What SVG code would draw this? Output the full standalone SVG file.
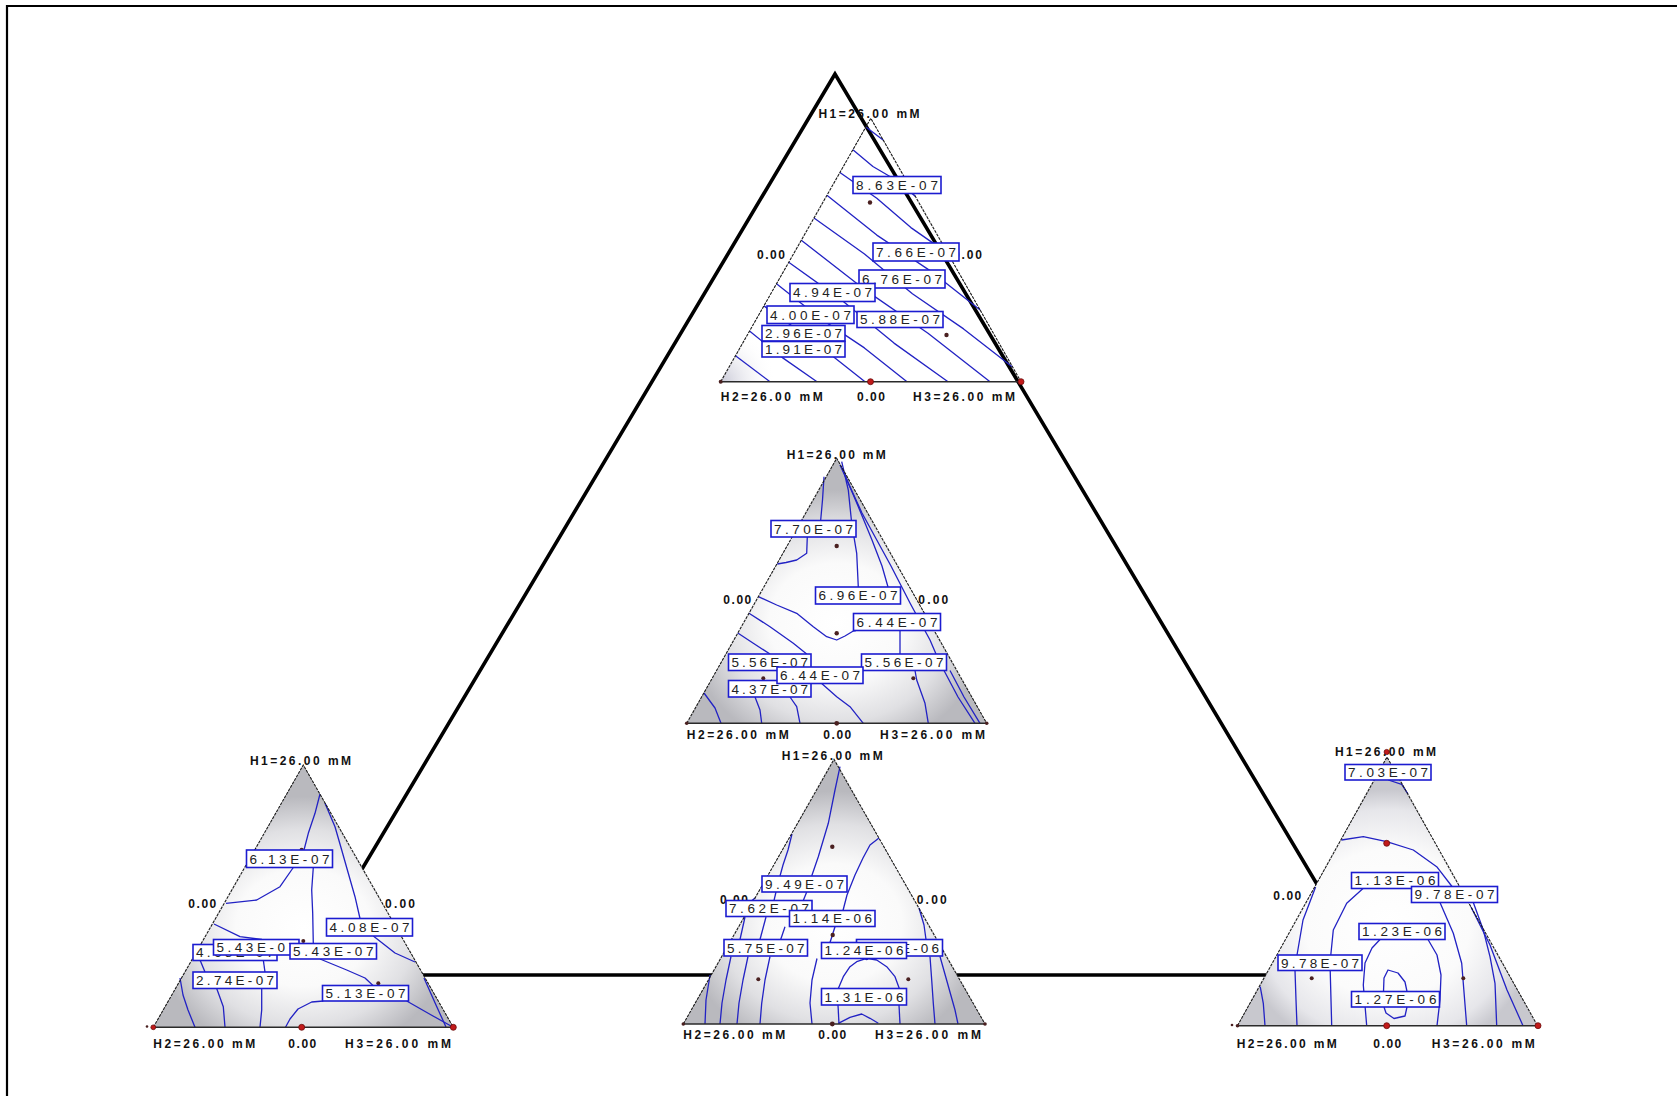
<svg xmlns="http://www.w3.org/2000/svg" width="1677" height="1096" viewBox="0 0 1677 1096">
  <style>
    .frame { fill: none; stroke: #000; stroke-width: 2.2; }
    .big { fill: none; stroke: #000; stroke-width: 3.6; stroke-linejoin: miter; }
    .edge { fill: none; stroke: #1a1a1a; stroke-width: 1.1; stroke-dasharray: 3 1; }
    .base { fill: none; stroke: #2a2a2a; stroke-width: 1.6; }
    .ct { fill: none; stroke: #2222c4; stroke-width: 1.3; stroke-linejoin: round; }
    .lbl rect { fill: #fff; stroke: #1c1cd0; stroke-width: 1.6; }
    .lbl text { font-family: "Liberation Sans", Arial, sans-serif; font-size: 13.5px; fill: #222; }
    .ax { font-family: "Liberation Sans", Arial, sans-serif; font-weight: bold; font-size: 12px; fill: #111; }
    .dr { fill: #c21a1a; stroke: #6a0c0c; stroke-width: 0.8; }
    .dd { fill: #4a2020; }
  </style>
  <defs>
    <radialGradient id="shade" cx="0.5" cy="0.62" r="0.5">
      <stop offset="0" stop-color="#ffffff"/>
      <stop offset="0.45" stop-color="#fafafa"/>
      <stop offset="0.75" stop-color="#e0e0e3"/>
      <stop offset="1" stop-color="#b9b9be"/>
    </radialGradient>
    <radialGradient id="shadeLight" cx="0.5" cy="0.62" r="0.5">
      <stop offset="0" stop-color="#ffffff"/>
      <stop offset="0.55" stop-color="#fbfbfb"/>
      <stop offset="0.85" stop-color="#e6e6ea"/>
      <stop offset="1" stop-color="#c8c8ce"/>
    </radialGradient>
    <radialGradient id="cornerTop" gradientUnits="userSpaceOnUse" cx="720.7" cy="381.7" r="55">
      <stop offset="0" stop-color="#c8c8d6"/>
      <stop offset="1" stop-color="#ffffff" stop-opacity="0"/>
    </radialGradient>
  </defs>

  <!-- page frame -->
  <path class="frame" d="M7,1096 V6 H1677"/>

  <!-- large triangle joining the plots -->
  <g id="connectors">
    <polygon class="big" points="835,74 299,975 1371,975"/>
  </g>

  <!-- top ternary plot -->
  <g id="plot-top">
    <polygon points="870.8,118.3 720.7,381.7 1021,381.7" fill="url(#cornerTop)"/>
    <g class="ct">
      <path d="M865.9,127 L883.1,139.9"/>
      <path d="M852.9,149.7 L872.9,166.5 L895.5,179.8 L915.5,196.6"/>
      <path d="M839.9,172.5 L876.8,198.3 L910.9,227.6 L947.8,253.4"/>
      <path d="M826.9,195.2 L876.8,235.1 L930,270.6 L980.2,310.1"/>
      <path d="M814,218 L864.5,254 L912.4,293.7 L963.6,328.9 L1012.5,366.9"/>
      <path d="M801.3,240.2 L863.3,288.6 L928,333.3 L990,381.7"/>
      <path d="M788.7,262.3 L842.7,300.9 L894,343.1 L948,381.7"/>
      <path d="M776.5,283.8 L819.1,317.6 L864.4,347.9 L907,381.7"/>
      <path d="M763.9,305.9 L815.4,342.6 L865,381.7"/>
      <path d="M749.5,331.1 L782.4,357.6 L817,381.7"/>
      <path d="M735.5,355.8 L770,381.7"/>
    </g>
    <path class="edge" d="M720.7,381.7 L870.8,118.3 L1021,381.7"/>
    <path class="base" d="M720.7,381.7 H1021"/>
    <circle class="dd" cx="870" cy="202.5" r="2.2"/>
    <circle class="dd" cx="946.5" cy="335" r="2.2"/>
    <circle class="dr" cx="870.5" cy="381.7" r="3"/>
    <circle class="dr" cx="1021" cy="381.7" r="3"/>
    <circle class="dd" cx="720.7" cy="381.7" r="2"/>
    <text class="ax" x="818.5" y="117.6" textLength="101" lengthAdjust="spacing">H1=26.00 mM</text>
    <text class="ax" x="757" y="259.3" textLength="28" lengthAdjust="spacing">0.00</text>
    <text class="ax" x="953" y="259.3" textLength="29" lengthAdjust="spacing">0.00</text>
    <text class="ax" x="720.7" y="401.3" textLength="102" lengthAdjust="spacing">H2=26.00 mM</text>
    <text class="ax" x="857" y="401.3" textLength="28" lengthAdjust="spacing">0.00</text>
    <text class="ax" x="913" y="401.3" textLength="102" lengthAdjust="spacing">H3=26.00 mM</text>
    <g class="lbl"><rect x="853" y="176.5" width="88" height="17"/><text x="856" y="189.8" textLength="82" lengthAdjust="spacing">8.63E-07</text></g>
    <g class="lbl"><rect x="859" y="270" width="86" height="18"/><text x="862" y="283.8" textLength="80" lengthAdjust="spacing">6.76E-07</text></g>
    <g class="lbl"><rect x="873" y="243" width="86" height="18"/><text x="876" y="256.8" textLength="80" lengthAdjust="spacing">7.66E-07</text></g>
    <g class="lbl"><rect x="790" y="283.5" width="85" height="18"/><text x="793" y="297.3" textLength="79" lengthAdjust="spacing">4.94E-07</text></g>
    <g class="lbl"><rect x="767" y="306" width="87" height="17.5"/><text x="770" y="319.5" textLength="81" lengthAdjust="spacing">4.00E-07</text></g>
    <g class="lbl"><rect x="857" y="311.5" width="86" height="16"/><text x="860" y="324.3" textLength="80" lengthAdjust="spacing">5.88E-07</text></g>
    <g class="lbl"><rect x="762" y="325.5" width="83" height="15.5"/><text x="765" y="338" textLength="77" lengthAdjust="spacing">2.96E-07</text></g>
    <g class="lbl"><rect x="762" y="341.5" width="83" height="15.5"/><text x="765" y="354" textLength="77" lengthAdjust="spacing">1.91E-07</text></g>
  </g>

  <!-- middle ternary plot -->
  <g id="plot-middle">
    <polygon points="836.7,458.3 686.7,723.3 986.7,723.3" fill="url(#shade)"/>
    <g class="ct">
      <path d="M824,476.7 L822.5,500 L820.7,520"/>
      <path d="M807.3,536.7 L806.7,553.3 L796.7,560 L786,562.5 L777.3,564"/>
      <path d="M841.7,461.7 L848.3,490 L851.7,523.3 L856.7,553.3 L858.3,587"/>
      <path d="M842,468 L858,506 L872,540 L882,566 L888,587"/>
      <path d="M900,630.7 L900,654"/>
      <path d="M915,670.5 L916.7,680 L925,703.3 L928.3,723.3"/>
      <path d="M840,465 L862,513 L891,566 L910,603 L930,640 L936,654"/>
      <path d="M944,670.5 L958,697 L975,723.3"/>
      <path d="M950,670.5 L964,697 L980,723.3"/>
      <path d="M758.4,596.7 L776.7,605 L796.7,613.3 L813.3,626.7 L826.7,636.7 L836.7,640 L845,636 L853.3,631 L856,630.5"/>
      <path d="M749,613.3 L770,626.7 L793.3,643.3 L806.7,654"/>
      <path d="M821.7,683.5 L836.7,696.7 L850,706.7 L863.3,723.3"/>
      <path d="M737.8,633 L753.3,643.3 L770,654"/>
      <path d="M790,697 L796.7,706.7 L800,723.3"/>
      <path d="M755,697 L760,710 L761.7,723.3"/>
      <path d="M704,693 L715,708 L721,723.3"/>
    </g>
    <path class="edge" d="M686.7,723.3 L836.7,458.3 L986.7,723.3"/>
    <path class="base" d="M686.7,723.3 H986.7"/>
    <circle class="dd" cx="836.7" cy="546" r="2.2"/>
    <circle class="dd" cx="836.7" cy="633.3" r="2.2"/>
    <circle class="dd" cx="913.3" cy="678.3" r="2"/>
    <circle class="dd" cx="763.3" cy="678.3" r="2"/>
    <circle class="dd" cx="836.7" cy="723.3" r="2.4"/>
    <circle class="dd" cx="686.7" cy="723.3" r="1.8"/>
    <circle class="dd" cx="986.7" cy="723.3" r="1.8"/>
    <text class="ax" x="786.7" y="459.3" textLength="99" lengthAdjust="spacing">H1=26.00 mM</text>
    <text class="ax" x="723.3" y="603.6" textLength="28" lengthAdjust="spacing">0.00</text>
    <text class="ax" x="918.3" y="603.6" textLength="30" lengthAdjust="spacing">0.00</text>
    <text class="ax" x="686.7" y="739.3" textLength="102" lengthAdjust="spacing">H2=26.00 mM</text>
    <text class="ax" x="823.3" y="739.3" textLength="28" lengthAdjust="spacing">0.00</text>
    <text class="ax" x="880" y="739.3" textLength="105" lengthAdjust="spacing">H3=26.00 mM</text>
    <g class="lbl"><rect x="771" y="520.5" width="85" height="16.5"/><text x="774" y="533.6" textLength="79" lengthAdjust="spacing">7.70E-07</text></g>
    <g class="lbl"><rect x="815.5" y="587" width="85" height="17"/><text x="818.5" y="600.3" textLength="79" lengthAdjust="spacing">6.96E-07</text></g>
    <g class="lbl"><rect x="853.5" y="613.5" width="87" height="17"/><text x="856.5" y="626.8" textLength="81" lengthAdjust="spacing">6.44E-07</text></g>
    <g class="lbl"><rect x="728.5" y="654" width="82.5" height="16.5"/><text x="731.5" y="667.1" textLength="76.5" lengthAdjust="spacing">5.56E-07</text></g>
    <g class="lbl"><rect x="861.5" y="654" width="85" height="16.5"/><text x="864.5" y="667.1" textLength="79" lengthAdjust="spacing">5.56E-07</text></g>
    <g class="lbl"><rect x="728.5" y="680.5" width="82.5" height="16.5"/><text x="731.5" y="693.6" textLength="76.5" lengthAdjust="spacing">4.37E-07</text></g>
    <g class="lbl"><rect x="777" y="667" width="86" height="16.5"/><text x="780" y="680.1" textLength="80" lengthAdjust="spacing">6.44E-07</text></g>
  </g>

  <!-- bottom middle ternary plot -->
  <g id="plot-bottom-middle">
    <polygon points="834,759.3 683.3,1024 985,1024" fill="url(#shade)"/>
    <g class="ct">
      <path d="M840,766.7 L835,790 L828.3,823.3 L818.3,856.7 L811.7,876"/>
      <path d="M806.7,892 L803.3,900.5"/>
      <path d="M785,926.7 L780.7,939.5"/>
      <path d="M770,956.5 L765,980 L761.7,1003.3 L760,1024"/>
      <path d="M792,834 L788,850 L783,865 L780,876"/>
      <path d="M776,892 L774,900.5"/>
      <path d="M766,917 L760,939.5"/>
      <path d="M748,956.5 L743,980 L739,1003 L737,1024"/>
      <path d="M755,898 L752,900.5"/>
      <path d="M745,917 L740,939.5"/>
      <path d="M731,956.5 L726,980 L722,1003 L720,1024"/>
      <path d="M710,975 L706,1000 L705,1024"/>
      <path d="M879,838 L870,845 L863,858 L855,875 L847,895 L843,910.5"/>
      <path d="M835,926.7 L830,942.5"/>
      <path d="M817,958.5 L812,980 L810,1003 L812,1024"/>
      <path d="M838.3,988.5 L843.3,976.7 L850,966.7 L856.7,961.7 L866.7,958.3 L876.7,960 L886.7,966.7 L895,976.7 L899.3,988.5"/>
      <path d="M838,1005 L839,1024"/>
      <path d="M899,1005 L900,1024"/>
      <path d="M838.3,1023.3 L850,1017.3 L861.7,1014 L870,1018.3 L878.3,1023.3"/>
      <path d="M919,908 L924,925 L926,939.5"/>
      <path d="M930,956.5 L931.7,980 L933.3,1003.3 L935,1024"/>
      <path d="M940,956.5 L948,985 L955,1010 L958,1024"/>
    </g>
    <path class="edge" d="M683.3,1024 L834,759.3 L985,1024"/>
    <path class="base" d="M683.3,1024 H985"/>
    <circle class="dd" cx="832.3" cy="846.7" r="2.2"/>
    <circle class="dd" cx="832.7" cy="935" r="2.2"/>
    <circle class="dd" cx="758.3" cy="979.3" r="2"/>
    <circle class="dd" cx="908.3" cy="979.3" r="2"/>
    <circle cx="866.7" cy="958.3" r="2" fill="#2222c4"/>
    <circle class="dd" cx="832.3" cy="1024" r="2.4"/>
    <circle class="dd" cx="683.3" cy="1024" r="1.8"/>
    <circle class="dd" cx="985" cy="1024" r="1.8"/>
    <text class="ax" x="781.7" y="760.3" textLength="101" lengthAdjust="spacing">H1=26.00 mM</text>
    <text class="ax" x="720" y="903.6" textLength="28" lengthAdjust="spacing">0.00</text>
    <text class="ax" x="916.7" y="903.6" textLength="30" lengthAdjust="spacing">0.00</text>
    <text class="ax" x="683.3" y="1039.3" textLength="102" lengthAdjust="spacing">H2=26.00 mM</text>
    <text class="ax" x="818.3" y="1039.3" textLength="28" lengthAdjust="spacing">0.00</text>
    <text class="ax" x="875" y="1039.3" textLength="106" lengthAdjust="spacing">H3=26.00 mM</text>
    <g class="lbl"><rect x="762" y="876" width="85" height="16"/><text x="765" y="888.8" textLength="79" lengthAdjust="spacing">9.49E-07</text></g>
    <g class="lbl"><rect x="726" y="900.5" width="86" height="16"/><text x="729" y="913.3" textLength="80" lengthAdjust="spacing">7.62E-07</text></g>
    <g class="lbl"><rect x="789.5" y="910.5" width="85.5" height="16"/><text x="792.5" y="923.3" textLength="79.5" lengthAdjust="spacing">1.14E-06</text></g>
    <g class="lbl"><rect x="724" y="939.5" width="83.5" height="16.5"/><text x="727" y="952.6" textLength="77.5" lengthAdjust="spacing">5.75E-07</text></g>
    <g class="lbl"><rect x="856.5" y="939.5" width="86" height="16.5"/><text x="901" y="952.6" textLength="38" lengthAdjust="spacing">E-06</text></g>
    <g class="lbl"><rect x="821.5" y="942.5" width="85" height="16"/><text x="824.5" y="955.3" textLength="79" lengthAdjust="spacing">1.24E-06</text></g>
    <g class="lbl"><rect x="821.5" y="988.5" width="85" height="16.5"/><text x="824.5" y="1001.6" textLength="79" lengthAdjust="spacing">1.31E-06</text></g>
  </g>

  <!-- left ternary plot -->
  <g id="plot-left">
    <polygon points="303.3,765 153.3,1027.3 453.3,1027.3" fill="url(#shade)"/>
    <g class="ct">
      <path d="M320,794 L315,813.3 L308.3,833.3 L304,850"/>
      <path d="M313.3,867.5 L311.7,890 L312.7,913.3 L313.3,943.5"/>
      <path d="M325,803.3 L335,826.7 L341.7,850 L348.3,873.3 L355,896.7 L360,918.5"/>
      <path d="M373.3,936 L395,953 L415,962"/>
      <path d="M293.3,867.5 L280,886.7 L256.7,900 L226,903.3"/>
      <path d="M214,924 L240,936.7 L262,939.5"/>
      <path d="M320,959 L346.7,970 L365,978 L373,985.5"/>
      <path d="M406.7,1001 L433,1016 L451,1026"/>
      <path d="M424,978 L436,1005 L446,1027"/>
      <path d="M323.3,1001 L311.7,1002 L298,1009 L290,1019 L285.5,1027.3"/>
      <path d="M200,960 L205,972"/>
      <path d="M216.7,988.5 L223.3,1006.7 L225,1027.3"/>
      <path d="M263.3,960 L265,972"/>
      <path d="M261.7,988.5 L261.7,1010 L260,1027.3"/>
      <path d="M180,978 L183,995 L188,1010 L195,1027.3"/>
    </g>
    <path class="edge" d="M153.3,1027.3 L303.3,765 L453.3,1027.3"/>
    <path class="base" d="M153.3,1027.3 H453.3"/>
    <circle class="dd" cx="301.7" cy="850" r="2.2"/>
    <circle class="dd" cx="303.3" cy="941" r="2"/>
    <circle class="dd" cx="378.3" cy="983.3" r="2"/>
    <circle class="dd" cx="198.3" cy="956.7" r="2"/>
    <circle class="dr" cx="301.7" cy="1027.3" r="3"/>
    <circle class="dr" cx="453.3" cy="1027.3" r="3"/>
    <circle class="dr" cx="153.3" cy="1027.3" r="2.4"/>
    <circle class="dd" cx="147" cy="1026.5" r="1.3"/>
    <text class="ax" x="250" y="765" textLength="101" lengthAdjust="spacing">H1=26.00 mM</text>
    <text class="ax" x="188.3" y="907.6" textLength="28" lengthAdjust="spacing">0.00</text>
    <text class="ax" x="385" y="907.6" textLength="30" lengthAdjust="spacing">0.00</text>
    <text class="ax" x="153.3" y="1048.3" textLength="102" lengthAdjust="spacing">H2=26.00 mM</text>
    <text class="ax" x="288.3" y="1048.3" textLength="28" lengthAdjust="spacing">0.00</text>
    <text class="ax" x="345" y="1048.3" textLength="106" lengthAdjust="spacing">H3=26.00 mM</text>
    <g class="lbl"><rect x="246.5" y="850" width="86" height="17.5"/><text x="249.5" y="863.5" textLength="80" lengthAdjust="spacing">6.13E-07</text></g>
    <g class="lbl"><rect x="326.5" y="918.5" width="86" height="17.5"/><text x="329.5" y="932" textLength="80" lengthAdjust="spacing">4.08E-07</text></g>
    <g class="lbl"><rect x="193" y="944.5" width="84" height="16"/><text x="196" y="957.3" textLength="78" lengthAdjust="spacing">4.68E-07</text></g>
    <g class="lbl"><rect x="213.5" y="939.5" width="85.5" height="15.5"/><text x="216.5" y="952" textLength="79.5" lengthAdjust="spacing">5.43E-07</text></g>
    <g class="lbl"><rect x="290" y="943.5" width="86.5" height="15.5"/><text x="293" y="956" textLength="80.5" lengthAdjust="spacing">5.43E-07</text></g>
    <g class="lbl"><rect x="193" y="972" width="84" height="16.5"/><text x="196" y="985.1" textLength="78" lengthAdjust="spacing">2.74E-07</text></g>
    <g class="lbl"><rect x="322.5" y="985.5" width="86" height="15.5"/><text x="325.5" y="998" textLength="80" lengthAdjust="spacing">5.13E-07</text></g>
  </g>

  <!-- right ternary plot -->
  <g id="plot-right">
    <polygon points="1387,757 1237.5,1025.7 1537.5,1025.7" fill="url(#shadeLight)"/>
    <g class="ct">
      <path d="M1388.3,780 L1401.7,784.3 L1408,794"/>
      <path d="M1341.5,840 L1363.3,836.7 L1386.7,841.7 L1413.3,850 L1436.7,866.7 L1452,886.5"/>
      <path d="M1473.3,902.5 L1483.3,930 L1490,956.7 L1495,983.3 L1496.7,1025.7"/>
      <path d="M1471,907 L1490,945 L1507,990 L1523,1025.7"/>
      <path d="M1331.7,1025.7 L1330,963 L1333.3,930 L1346.7,903.3 L1363,888.5"/>
      <path d="M1440,902.5 L1453.3,933.3 L1461.7,963.3 L1466.7,1025.7"/>
      <path d="M1315.6,887 L1303,920 L1297,955"/>
      <path d="M1295,970.5 L1296,1000 L1297,1025.7"/>
      <path d="M1366.7,1025.7 L1363.3,985 L1365,963 L1372,948 L1380,939.5"/>
      <path d="M1428,939.5 L1437,955 L1441,975 L1440,1000 L1437,1025.7"/>
      <path d="M1383.5,991.5 L1384,978 L1388,970 L1398,973 L1405,982 L1407,991.5"/>
      <path d="M1407,1007 L1405,1016 L1394,1018.5 L1386,1013 L1384,1007"/>
      <path d="M1260.2,986.7 L1263.3,1003.3 L1265,1025.7"/>
    </g>
    <path class="edge" d="M1237.5,1025.7 L1387,757 L1537.5,1025.7"/>
    <path class="base" d="M1237.5,1025.7 H1537.5"/>
    <circle class="dr" cx="1386.7" cy="843.3" r="3"/>
    <circle class="dd" cx="1386.7" cy="934" r="2.2"/>
    <circle class="dd" cx="1311.7" cy="978.3" r="2"/>
    <circle class="dd" cx="1463.3" cy="978.3" r="2"/>
    <circle class="dr" cx="1386.7" cy="1025.7" r="3"/>
    <circle class="dr" cx="1538" cy="1025.7" r="3"/>
    <circle class="dr" cx="1386.7" cy="752" r="2.6"/>
    <circle class="dd" cx="1237.5" cy="1025.7" r="1.8"/>
    <circle class="dd" cx="1232" cy="1025" r="1.3"/>
    <text class="ax" x="1335" y="756" textLength="101" lengthAdjust="spacing">H1=26.00 mM</text>
    <text class="ax" x="1273.3" y="900" textLength="28" lengthAdjust="spacing">0.00</text>
    <text class="ax" x="1236.7" y="1047.6" textLength="100" lengthAdjust="spacing">H2=26.00 mM</text>
    <text class="ax" x="1373.3" y="1047.6" textLength="28" lengthAdjust="spacing">0.00</text>
    <text class="ax" x="1431.7" y="1047.6" textLength="103" lengthAdjust="spacing">H3=26.00 mM</text>
    <g class="lbl"><rect x="1345" y="764.5" width="86" height="15.5"/><text x="1348" y="777" textLength="80" lengthAdjust="spacing">7.03E-07</text></g>
    <g class="lbl"><rect x="1351.5" y="872.5" width="87" height="16"/><text x="1354.5" y="885.3" textLength="81" lengthAdjust="spacing">1.13E-06</text></g>
    <g class="lbl"><rect x="1411.5" y="886.5" width="86" height="16"/><text x="1414.5" y="899.3" textLength="80" lengthAdjust="spacing">9.78E-07</text></g>
    <g class="lbl"><rect x="1359" y="923.5" width="86" height="16"/><text x="1362" y="936.3" textLength="80" lengthAdjust="spacing">1.23E-06</text></g>
    <g class="lbl"><rect x="1278" y="955" width="84" height="15.5"/><text x="1281" y="967.5" textLength="78" lengthAdjust="spacing">9.78E-07</text></g>
    <g class="lbl"><rect x="1351.5" y="991.5" width="88" height="15.5"/><text x="1354.5" y="1004" textLength="82" lengthAdjust="spacing">1.27E-06</text></g>
  </g>
</svg>
